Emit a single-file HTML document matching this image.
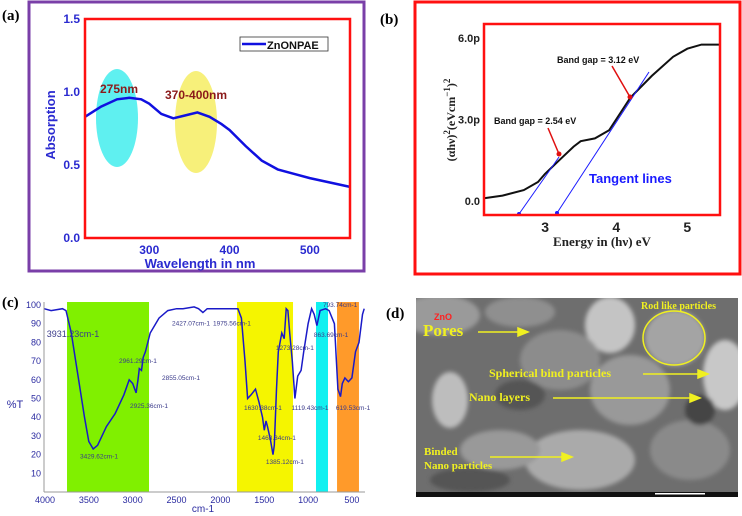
<!DOCTYPE html>
<html><head><meta charset="utf-8"><style>
body{margin:0;background:#fff;}
svg{display:block;font-family:"Liberation Sans",sans-serif;}
</style></head><body>
<svg id="fig" width="742" height="516" viewBox="0 0 742 516">
<g>
 <rect x="29" y="2" width="335" height="269" fill="none" stroke="#7a3fa8" stroke-width="3"/>
 <text x="2" y="20" font-family="Liberation Serif,serif" font-weight="bold" font-size="15">(a)</text>
 <ellipse cx="117" cy="118" rx="21" ry="49" fill="#5ff0f0"/>
 <ellipse cx="196" cy="122" rx="21" ry="51" fill="#f7f07a"/>
 <g id="a-marks"></g>
 <rect x="85" y="19" width="265" height="219" fill="none" stroke="#ff1010" stroke-width="2.5"/>
 <g id="a-axes" font-weight="bold" font-size="12" fill="#2a2ad0"></g>
 <text x="100" y="93" font-weight="bold" font-size="12" fill="#8b1a1a">275nm</text>
 <text x="165" y="99" font-weight="bold" font-size="12" fill="#8b1a1a">370-400nm</text>
 <g>
  <rect x="240" y="37" width="88" height="14" fill="#fff" stroke="#333" stroke-width="0.8"/>
  <line x1="242" y1="44" x2="266" y2="44" stroke="#1010e0" stroke-width="2.5"/>
  <text x="267" y="49" font-weight="bold" font-size="11" fill="#111">ZnONPAE</text>
 </g>
 <text x="200" y="268" text-anchor="middle" font-weight="bold" font-size="13" fill="#2a2ad0">Wavelength in nm</text>
 <text transform="translate(55,125) rotate(-90)" text-anchor="middle" font-weight="bold" font-size="13" fill="#2a2ad0">Absorption</text>
</g>
<g>
 <rect x="415" y="2" width="325" height="272" fill="none" stroke="#ff1010" stroke-width="3"/>
 <text x="380" y="24" font-family="Liberation Serif,serif" font-weight="bold" font-size="15">(b)</text>
 <g id="b-marks"></g>
 <rect x="484" y="24" width="236" height="191" fill="none" stroke="#ff1010" stroke-width="2.5"/>
 <g id="b-axes" font-weight="bold" font-size="12" fill="#222"></g>
 <text x="494" y="124" font-weight="bold" font-size="9" fill="#111">Band gap = 2.54 eV</text>
 <text x="557" y="63" font-weight="bold" font-size="9" fill="#111">Band gap = 3.12 eV</text>
 <text x="589" y="183" font-weight="bold" font-size="13" fill="#1a1aff">Tangent lines</text>
 <text x="602" y="246" text-anchor="middle" font-family="Liberation Serif,serif" font-weight="bold" font-size="13" fill="#222">Energy in (hν) eV</text>
 <text transform="translate(455,120) rotate(-90)" text-anchor="middle" font-family="Liberation Serif,serif" font-weight="bold" font-size="12" fill="#222">(αhν)<tspan dy="-5" font-size="9">2</tspan><tspan dy="5">(eVcm</tspan><tspan dy="-5" font-size="9">−1</tspan><tspan dy="5">)</tspan><tspan dy="-5" font-size="9">2</tspan></text>
</g>
<g>
 <text x="2" y="307" font-family="Liberation Serif,serif" font-weight="bold" font-size="15">(c)</text>
 <g id="c-bands"></g>
 <g id="c-marks"></g>
 <line x1="44" y1="302" x2="44" y2="492" stroke="#999" stroke-width="1"/>
 <line x1="44" y1="492" x2="365" y2="492" stroke="#999" stroke-width="1"/>
 <g id="c-axes" font-size="9" fill="#2a2aa0"></g>
 <g id="c-labels" font-size="6.5" fill="#3a3a8a"></g>
 <text x="15" y="408" text-anchor="middle" font-size="11" fill="#2a2aa0">%T</text>
 <text x="203" y="512" text-anchor="middle" font-size="10" fill="#2a2aa0">cm-1</text>
</g>
<g>
 <text x="386" y="318" font-family="Liberation Serif,serif" font-weight="bold" font-size="15">(d)</text>
 <g>
  <defs><clipPath id="semclip"><rect x="416" y="298" width="322" height="194"/></clipPath>
  <filter id="blur"><feGaussianBlur stdDeviation="2"/></filter></defs>
  <rect x="416" y="298" width="322" height="194" fill="#6e6e6e"/>
  <g clip-path="url(#semclip)" filter="url(#blur)">
   <ellipse cx="440" cy="315" rx="40" ry="20" fill="#9a9a9a"/>
   <ellipse cx="520" cy="312" rx="35" ry="15" fill="#8f8f8f"/>
   <ellipse cx="610" cy="325" rx="25" ry="28" fill="#c4c4c4"/>
   <ellipse cx="675" cy="338" rx="30" ry="28" fill="#a4a4a4"/>
   <ellipse cx="725" cy="375" rx="22" ry="35" fill="#c8c8c8"/>
   <ellipse cx="450" cy="400" rx="18" ry="28" fill="#bdbdbd"/>
   <ellipse cx="560" cy="360" rx="40" ry="30" fill="#8c8c8c"/>
   <ellipse cx="630" cy="390" rx="40" ry="35" fill="#999"/>
   <ellipse cx="580" cy="460" rx="55" ry="30" fill="#aaa"/>
   <ellipse cx="500" cy="450" rx="40" ry="20" fill="#999"/>
   <ellipse cx="690" cy="450" rx="40" ry="30" fill="#8a8a8a"/>
   <ellipse cx="470" cy="480" rx="40" ry="12" fill="#555"/>
   <ellipse cx="520" cy="395" rx="25" ry="15" fill="#555"/>
   <ellipse cx="700" cy="410" rx="15" ry="15" fill="#444"/>
  </g>
  <rect x="416" y="492" width="322" height="5" fill="#111"/>
  <rect x="655" y="493" width="50" height="1.5" fill="#fff"/>
 </g>
 <g font-family="Liberation Serif,serif" font-weight="bold" fill="#f0f020">
  <text x="434" y="320" font-family="Liberation Sans,sans-serif" font-size="9" fill="#ff2020">ZnO</text>
  <text x="423" y="336" font-size="17">Pores</text>
  <text x="641" y="309" font-size="10">Rod like particles</text>
  <text x="489" y="377" font-size="12">Spherical bind particles</text>
  <text x="469" y="401" font-size="12">Nano layers</text>
  <text x="424" y="455" font-size="11">Binded</text>
  <text x="424" y="469" font-size="11">Nano particles</text>
 </g>
 <ellipse cx="674" cy="338" rx="31" ry="27" fill="none" stroke="#f0f020" stroke-width="1.5"/>
 <g stroke="#f0f020" stroke-width="1.5" fill="#f0f020">
  <line x1="478" y1="332" x2="520" y2="332"/><polygon points="528,332 518,328 518,336"/>
  <line x1="643" y1="374" x2="700" y2="374"/><polygon points="708,374 698,370 698,378"/>
  <line x1="553" y1="398" x2="692" y2="398"/><polygon points="700,398 690,394 690,402"/>
  <line x1="490" y1="457" x2="564" y2="457"/><polygon points="572,457 562,453 562,461"/>
 </g>
</g>
</svg>
<script>
const aWavelengths=[220,240,260,275,290,300,315,330,345,360,375,390,400,420,440,460,480,500,525,550];
const aAbsorption=[0.83,0.90,0.95,0.96,0.95,0.92,0.85,0.82,0.84,0.86,0.83,0.78,0.74,0.63,0.53,0.47,0.44,0.41,0.38,0.35];
const aYTicks=[0.0,0.5,1.0,1.5];
const aXTicks=[300,400,500];
const bEnergy=[2.14,2.4,2.7,2.9,3.0,3.2,3.4,3.5,3.7,3.9,4.0,4.2,4.5,4.8,5.0,5.2,5.46];
const bValue=[0.1,0.2,0.4,0.7,1.0,1.5,2.0,2.2,2.3,2.6,3.0,3.8,4.6,5.3,5.6,5.75,5.75];
const bYTicks=[0.0,3.0,6.0];
const bYTickLabels=["0.0","3.0p","6.0p"];
const bXTicks=[3,4,5];
const cWavenumber=[4010,3931,3800,3760,3700,3650,3600,3550,3500,3450,3400,3350,3300,3200,3100,3040,3000,2961,2940,2925,2900,2880,2855,2800,2700,2600,2500,2427,2300,2250,2200,2150,2000,1975,1800,1760,1720,1690,1650,1600,1560,1520,1500,1480,1463,1430,1400,1385,1360,1340,1300,1273,1250,1230,1210,1180,1150,1119,1080,1050,1000,960,930,900,863,800,760,700,660,630,610,580,540,500,460,420,380,360];
const cTransmittance=[98,97,98,97,85,70,55,40,27,23,25,30,35,42,52,60,58,53,60,66,65,72,75,85,93,97,98,98,99,98,96,98,98,98,98,93,70,50,52,55,48,40,33,38,35,28,20,25,55,75,85,82,98,97,85,70,50,62,65,75,90,98,95,89,97,98,97,90,55,51,58,61,59,61,75,80,95,98];
const cYTicks=[10,20,30,40,50,60,70,80,90,100];
const cXTicks=[4000,3500,3000,2500,2000,1500,1000,500];
const cBandStart=[3749,1811,910,670];
const cBandEnd=[2814,1172,773,420];
const cBandColors=["#80f000","#f5f500","#10f0f0","#ff9a2a"];
const cPeakLabels=["3931.23cm-1","3429.62cm-1","2961.29cm-1","2925.36cm-1","2855.05cm-1","2427.07cm-1","1975.56cm-1","1630.38cm-1","1463.34cm-1","1385.12cm-1","1273.28cm-1","1119.43cm-1","863.69cm-1","793.74cm-1","619.53cm-1"];
const cPeakLabelX=[3681,3384,2940,2814,2449,2335,1868,1515,1356,1265,1151,978,738,635,487];
const cPeakLabelY=[84,19,70,46,61,90,90,45,29,16,77,45,84,100,45];

const NS="http://www.w3.org/2000/svg";
function mk(parent,tag,attrs){const e=document.createElementNS(NS,tag);for(const k in attrs)e.setAttribute(k,attrs[k]);parent.appendChild(e);return e;}
function path(xs,ys,fx,fy){return xs.map((v,i)=>(i?'L':'M')+fx(v).toFixed(1)+','+fy(ys[i]).toFixed(1)).join(' ');}

const ax=v=>85+(v-220)/(550-220)*265, ay=v=>238-v/1.5*219;
let g=document.getElementById('a-marks');
let p=mk(g,'path',{d:path(aWavelengths,aAbsorption,ax,ay),fill:'none',stroke:'#1010e0','stroke-width':2.5});


g=document.getElementById('a-axes');
aYTicks.forEach(t=>{let e=mk(g,'text',{x:80,y:ay(t)+4,'text-anchor':'end'});e.textContent=t.toFixed(1);

});
aXTicks.forEach(t=>{let e=mk(g,'text',{x:ax(t),y:254,'text-anchor':'middle'});e.textContent=t;

});

const bx=v=>484+(v-2.14)/(5.46-2.14)*236, by=v=>201-v*27.2;
g=document.getElementById('b-marks');
p=mk(g,'path',{d:path(bEnergy,bValue,bx,by),fill:'none',stroke:'#111','stroke-width':2});


[[559,157,519,214],[649,72,557,213]].forEach(l=>{let e=mk(g,'line',{x1:l[0],y1:l[1],x2:l[2],y2:l[3],stroke:'#1a1aff','stroke-width':1});


mk(g,'circle',{cx:l[2],cy:l[3],r:2,fill:'#1a1aff'});});
[[548,128,559,154],[612,66,630,97]].forEach(l=>{let e=mk(g,'line',{x1:l[0],y1:l[1],x2:l[2],y2:l[3],stroke:'#e01010','stroke-width':1.5});


mk(g,'circle',{cx:l[2],cy:l[3],r:2.5,fill:'#e01010'});});
g=document.getElementById('b-axes');
bYTicks.forEach((t,i)=>{let e=mk(g,'text',{x:480,y:by(t)+4,'text-anchor':'end','font-size':11});e.textContent=bYTickLabels[i];

});
bXTicks.forEach(t=>{let e=mk(g,'text',{x:bx(t),y:232,'text-anchor':'middle','font-size':14});e.textContent=t;

});

const cx=v=>45+(4000-v)*0.0877, cy=v=>492-v*1.87;
g=document.getElementById('c-bands');
cBandStart.forEach((s,i)=>{let e=mk(g,'rect',{x:cx(s),y:302,width:cx(cBandEnd[i])-cx(s),height:190,fill:cBandColors[i]});

});
g=document.getElementById('c-marks');
p=mk(g,'path',{d:path(cWavenumber,cTransmittance,cx,cy),fill:'none',stroke:'#1a1ac8','stroke-width':1.5});


g=document.getElementById('c-axes');
cYTicks.forEach(t=>{let e=mk(g,'text',{x:41,y:cy(t)+3,'text-anchor':'end'});e.textContent=t;

});
cXTicks.forEach(t=>{let e=mk(g,'text',{x:cx(t),y:503,'text-anchor':'middle'});e.textContent=t;

});
g=document.getElementById('c-labels');
cPeakLabels.forEach((s,i)=>{let e=mk(g,'text',{x:cx(cPeakLabelX[i]),y:cy(cPeakLabelY[i])+2,'text-anchor':'middle','font-size':i===0?9:6.5});e.textContent=s;

});
</script>
</body></html>
